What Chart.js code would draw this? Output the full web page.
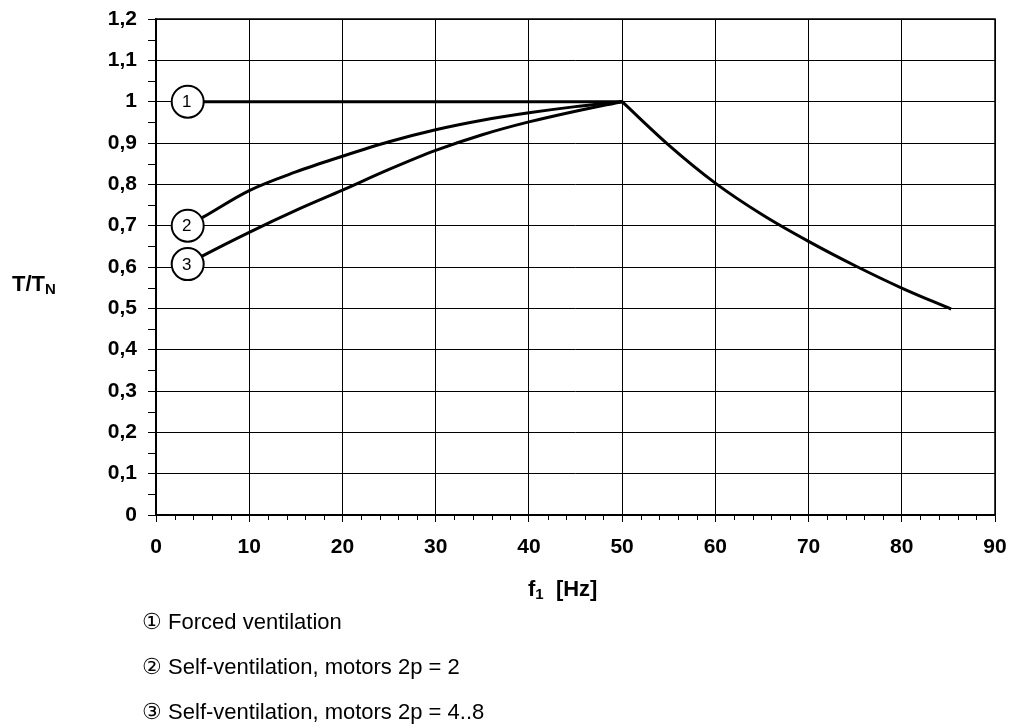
<!DOCTYPE html>
<html>
<head>
<meta charset="utf-8">
<script src="https://cdn.jsdelivr.net/npm/chart.js@4/dist/chart.umd.min.js"></script>
<style>
  html, body { margin: 0; padding: 0; background: #fff; }
  #wrap { position: relative; width: 1013px; height: 727px; overflow: hidden; }
  canvas { position: absolute; left: 0; top: 0; }
  .ttl { position: absolute; font-family: "Liberation Sans", Arial, sans-serif; font-weight: bold; font-size: 22px; line-height: 22px; color: #000; white-space: nowrap; }
  .ttl sub { font-size: 15px; vertical-align: -3px; }
  .leg { position: absolute; left: 142px; font-family: "Liberation Sans", Arial, sans-serif; font-size: 22px; line-height: 22px; color: #000; white-space: nowrap; }
</style>
</head>
<body>
<div id="wrap">
  <canvas id="c" width="1013" height="727"></canvas>
  <div class="ttl" style="left:12px; top:273px;">T/T<sub>N</sub></div>
  <div class="ttl" style="left:528px; top:578px;">f<sub>1</sub>&nbsp; [Hz]</div>
  <div class="leg" style="top:611px;">① Forced ventilation</div>
  <div class="leg" style="top:656px;">② Self-ventilation, motors 2p = 2</div>
  <div class="leg" style="top:701px;">③ Self-ventilation, motors 2p = 4..8</div>
</div>
<script>
// ---- data ----
// curve 1: forced ventilation (constant torque up to 50 Hz)
const forcedX = [3.4, 50];
const forcedY = [1.0, 1.0];
// common field-weakening branch above 50 Hz
const weakX = [50, 55, 60, 65, 70, 75, 80, 85.3];
const weakY = [1.0, 0.895, 0.803, 0.727, 0.662, 0.603, 0.549, 0.498];
// curves 2 and 3: self-ventilation
const selfX = [3.4, 5, 10, 15, 20, 25, 30, 35, 40, 45, 50];
const self2pY = [0.70, 0.72, 0.785, 0.83, 0.868, 0.903, 0.932, 0.955, 0.973, 0.988, 1.0];
const self48Y = [0.607, 0.627, 0.684, 0.737, 0.786, 0.836, 0.882, 0.92, 0.951, 0.977, 1.0];

const markerX = [3.4, 3.4, 3.4];
const markerY = [1.0, 0.70, 0.607];
const markerLabels = ['1', '2', '3'];

const yTickLabels = ['0', '0,1', '0,2', '0,3', '0,4', '0,5', '0,6', '0,7', '0,8', '0,9', '1', '1,1', '1,2'];
const xTickLabels = ['0', '10', '20', '30', '40', '50', '60', '70', '80', '90'];

const pts = (xs, ys) => xs.map((x, i) => ({ x: x, y: ys[i] }));

const FONT = '"Liberation Sans", Arial, sans-serif';

const minorTicks = {
  id: 'minorTicks',
  afterDraw(chart) {
    const ctx = chart.ctx;
    const xs = chart.scales.x, ys = chart.scales.y;
    ctx.save();
    ctx.strokeStyle = '#000';
    ctx.lineWidth = 1;
    ctx.beginPath();
    for (let v = 2; v < 90; v += 2) {
      if (v % 10 === 0) continue;
      const px = Math.round(xs.getPixelForValue(v)) + 0.5;
      ctx.moveTo(px, ys.bottom);
      ctx.lineTo(px, ys.bottom + 5);
    }
    for (let k = 0; k < 12; k++) {
      const v = k * 0.1 + 0.05;
      const py = Math.round(ys.getPixelForValue(v)) + 0.5;
      ctx.moveTo(xs.left - 8, py);
      ctx.lineTo(xs.left, py);
    }
    ctx.stroke();
    ctx.lineWidth = 1.5;
    ctx.strokeRect(chart.chartArea.left, chart.chartArea.top,
      chart.chartArea.right - chart.chartArea.left, chart.chartArea.bottom - chart.chartArea.top);
    ctx.restore();
  }
};

const markerText = {
  id: 'markerText',
  afterDatasetsDraw(chart) {
    const meta = chart.getDatasetMeta(4);
    const ctx = chart.ctx;
    ctx.save();
    ctx.fillStyle = '#000';
    ctx.font = '17px ' + FONT;
    ctx.textAlign = 'center';
    ctx.textBaseline = 'middle';
    meta.data.forEach((el, i) => {
      ctx.fillText(markerLabels[i], el.x - 1, el.y + 1);
    });
    ctx.restore();
  }
};

const lineStyle = { showLine: true, borderColor: '#000', borderWidth: 3, pointRadius: 0, order: 2, borderJoinStyle: 'round' };

new Chart(document.getElementById('c'), {
  type: 'scatter',
  data: {
    datasets: [
      Object.assign({ label: 'Forced ventilation', data: pts(forcedX, forcedY), tension: 0 }, lineStyle),
      Object.assign({ label: 'Above 50 Hz', data: pts(weakX, weakY), cubicInterpolationMode: 'monotone' }, lineStyle),
      Object.assign({ label: 'Self-ventilation, motors 2p = 2', data: pts(selfX, self2pY), cubicInterpolationMode: 'monotone' }, lineStyle),
      Object.assign({ label: 'Self-ventilation, motors 2p = 4..8', data: pts(selfX, self48Y), cubicInterpolationMode: 'monotone' }, lineStyle),
      { label: 'markers', order: 0, data: pts(markerX, markerY), showLine: false, pointRadius: 16, pointHoverRadius: 16, pointBackgroundColor: '#fff', pointBorderColor: '#000', pointBorderWidth: 2 }
    ]
  },
  options: {
    responsive: false,
    animation: false,
    devicePixelRatio: 1,
    layout: { padding: { top: 19, right: 17, bottom: 172, left: 0 } },
    plugins: { legend: { display: false }, tooltip: { enabled: false } },
    scales: {
      x: {
        type: 'linear', min: 0, max: 90,
        ticks: { stepSize: 10, padding: 13, color: '#000', font: { family: FONT, size: 21, weight: 'bold' },
          callback: (v) => xTickLabels[Math.round(v / 10)] },
        grid: { color: '#000', lineWidth: 1, tickLength: 7, drawTicks: true },
        border: { color: '#000', width: 1.5 },
        afterFit: (s) => { s.height = 40; s.paddingLeft = 0; s.paddingRight = 0; }
      },
      y: {
        type: 'linear', min: 0, max: 1.2,
        ticks: { stepSize: 0.1, padding: 11, color: '#000', font: { family: FONT, size: 21, weight: 'bold' },
          callback: (v) => yTickLabels[Math.round(v * 10)] },
        grid: { color: '#000', lineWidth: 1, tickLength: 8, drawTicks: true },
        border: { color: '#000', width: 1.5 },
        afterFit: (s) => { s.width = 156; s.paddingTop = 0; s.paddingBottom = 0; }
      }
    }
  },
  plugins: [minorTicks, markerText]
});
</script>
</body>
</html>
